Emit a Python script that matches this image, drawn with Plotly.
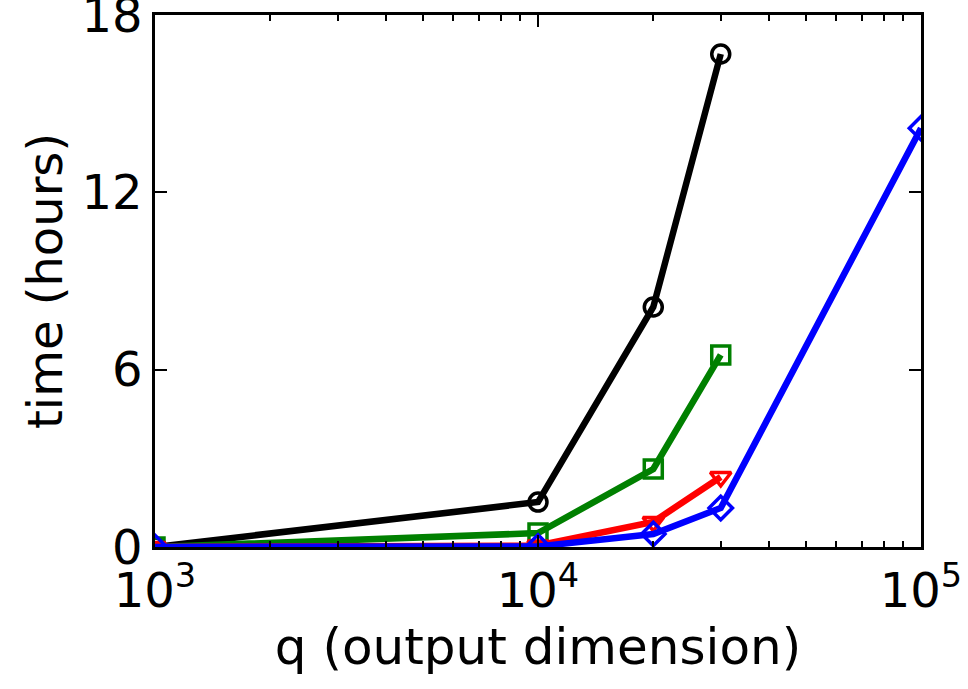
import plotly.graph_objects as go

q_black = [1000, 10000, 20000, 30000]
t_black = [0.0, 1.52, 8.12, 16.68]
q_green = [1000, 10000, 20000, 30000]
t_green = [0.0, 0.47, 2.64, 6.5]
q_red = [1000, 10000, 20000, 30000]
t_red = [0.0, 0.05, 0.85, 2.37]
q_blue = [1000, 10000, 20000, 30000, 100000]
t_blue = [0.0, 0.02, 0.44, 1.32, 14.17]

x_tickvals = [1000, 10000, 100000]
x_ticktext = ["10<sup>3</sup>", "10<sup>4</sup>", "10<sup>5</sup>"]
x_minor = [2000, 3000, 4000, 5000, 6000, 7000, 8000, 9000,
           20000, 30000, 40000, 50000, 60000, 70000, 80000, 90000]
y_tickvals = [0, 6, 12, 18]

series = [
    (q_black, t_black, "black", "circle-open"),
    (q_green, t_green, "green", "square-open"),
    (q_red, t_red, "red", "triangle-down-open"),
    (q_blue, t_blue, "blue", "diamond-open"),
]

fig = go.Figure()
for xs, ys, col, sym in series:
    fig.add_trace(go.Scatter(
        x=xs, y=ys, mode="lines+markers",
        line=dict(color=col, width=6.5),
        marker=dict(symbol=sym, size=18, color=col, line=dict(color=col, width=3.5)),
        cliponaxis=True, showlegend=False,
    ))

font = dict(family="DejaVu Sans", size=48, color="black")
fig.update_layout(
    width=968, height=689,
    margin=dict(l=155, r=47, t=15, b=142),
    plot_bgcolor="white", paper_bgcolor="white",
    font=font,
)
fig.update_xaxes(
    type="log", range=[3, 5], automargin=False,
    tickvals=x_tickvals, ticktext=x_ticktext,
    ticks="inside", ticklen=12, tickwidth=1.5, tickcolor="black",
    showline=True, linewidth=2.5, linecolor="black", mirror="allticks",
    showgrid=False, zeroline=False, ticklabeloverflow="allow",
    minor=dict(tickvals=x_minor, ticks="inside", ticklen=6, tickwidth=1.5, tickcolor="black", showgrid=False),
    title=dict(text="q (output dimension)", font=dict(family="DejaVu Sans", size=50, color="black"), standoff=6),
    tickfont=font,
)
fig.update_yaxes(
    range=[0, 18], tickvals=y_tickvals, automargin=False,
    ticks="inside", ticklen=12, tickwidth=1.5, tickcolor="black",
    showline=True, linewidth=2.5, linecolor="black", mirror="allticks",
    showgrid=False, zeroline=False, ticklabeloverflow="allow",
    tickfont=font,
)
fig.add_annotation(
    text="time (hours)", textangle=-90,
    xref="paper", yref="paper", x=(45 - 155) / 766, y=0.5,
    xanchor="center", yanchor="middle", showarrow=False, font=font,
)
fig.write_html("out.html")
